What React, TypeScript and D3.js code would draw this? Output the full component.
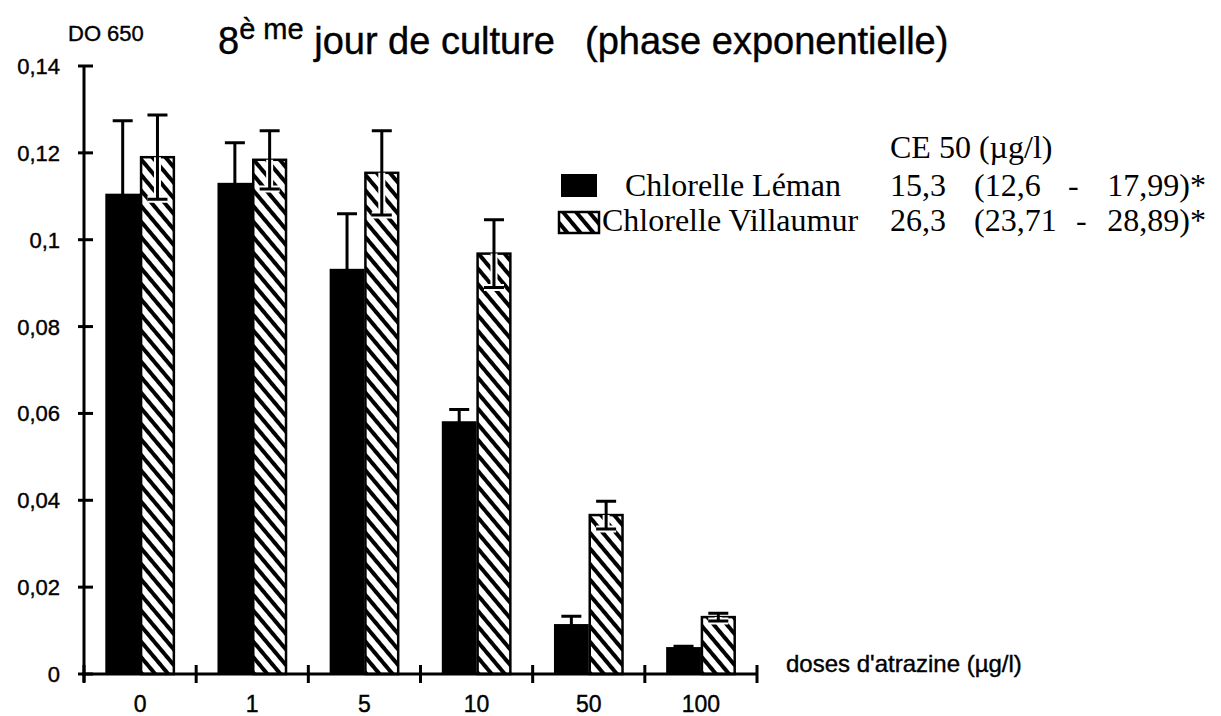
import React, { useEffect, useRef } from 'react'
import * as d3 from 'd3'

// doses d'atrazine (µg/l)
const doses = ['0', '1', '5', '10', '50', '100']
const lemanValues = [0.1106, 0.1131, 0.0933, 0.0582, 0.0115, 0.0062]
const lemanErrors = [0.0168, 0.0092, 0.0127, 0.0027, 0.0018, 0.0002]
const villaumurValues = [0.119, 0.1184, 0.1154, 0.0968, 0.0366, 0.0131]
const villaumurErrors = [0.0097, 0.0067, 0.0097, 0.0078, 0.0032, 0.0009]
const yTicks = [0, 0.02, 0.04, 0.06, 0.08, 0.1, 0.12, 0.14]

const seriesNames = ['Chlorelle Léman', 'Chlorelle Villaumur']
const ce50Values = ['15,3', '26,3']
const ce50Low = ['(12,6', '(23,71']
const ce50High = ['17,99)*', '28,89)*']

const sans = 'Arial, "Liberation Sans", Helvetica, sans-serif'
const serif = '"Times New Roman", "Liberation Serif", serif'

const App = () => {
  const ref = useRef<HTMLDivElement>(null)

  useEffect(() => {
    const width = 1221
    const height = 716
    const axisLeft = 84
    const axisRight = 757
    const baseY = 674
    const topY = 66

    const data = doses.map((d, i) => ({
      dose: d,
      bars: [
        { key: 'leman', value: lemanValues[i], err: lemanErrors[i] },
        { key: 'villaumur', value: villaumurValues[i], err: villaumurErrors[i] },
      ],
    }))

    const x0 = d3.scaleBand().domain(doses).range([axisLeft, axisRight]).paddingInner(0.38).paddingOuter(0.19)
    const x1 = d3.scaleBand().domain(['leman', 'villaumur']).range([0, x0.bandwidth()])
    const y = d3.scaleLinear().domain([0, 0.14]).range([baseY, topY])

    const svg = d3
      .create('svg')
      .attr('width', width)
      .attr('height', height)
      .attr('viewBox', [0, 0, width, height])
      .attr('style', 'position:absolute;left:0;top:0;background:#fff')

    const pat = svg
      .append('defs')
      .append('pattern')
      .attr('id', 'hatch')
      .attr('patternUnits', 'userSpaceOnUse')
      .attr('width', 10)
      .attr('height', 10)
      .attr('patternTransform', 'rotate(50)')
    pat.append('rect').attr('width', 10).attr('height', 10).attr('fill', '#fff')
    pat.append('line').attr('x1', 0).attr('x2', 10).attr('y1', 5).attr('y2', 5).attr('stroke', '#000').attr('stroke-width', 4)

    const groups = svg
      .append('g')
      .selectAll('g')
      .data(data)
      .join('g')
      .attr('transform', (d) => `translate(${x0(d.dose)},0)`)

    groups
      .selectAll('rect')
      .data((d) => d.bars)
      .join('rect')
      .attr('x', (d) => x1(d.key)! + (d.key === 'villaumur' ? 1 : 0))
      .attr('y', (d) => y(d.value))
      .attr('width', (d) => x1.bandwidth() - (d.key === 'villaumur' ? 2 : 0))
      .attr('height', (d) => baseY - y(d.value))
      .attr('fill', (d) => (d.key === 'leman' ? '#000' : 'url(#hatch)'))
      .attr('stroke', '#000')
      .attr('stroke-width', (d) => (d.key === 'leman' ? 0 : 2.5))

    // error bars (lower whisker shows through the hatched bars)
    const eb = groups
      .selectAll('g.err')
      .data((d) => d.bars)
      .join('g')
      .attr('class', 'err')
      .attr('transform', (d) => `translate(${x1(d.key)! + x1.bandwidth() / 2},0)`)
    const capW = 10
    eb.filter((d) => d.key === 'villaumur')
      .append('path')
      .attr('d', (d) => `M0,${y(d.value)}V${y(d.value - d.err)}M${-capW},${y(d.value - d.err)}H${capW}`)
      .attr('stroke', '#fff')
      .attr('stroke-width', 7)
      .attr('fill', 'none')
    eb.append('path')
      .attr('d', (d) => `M0,${y(d.value - d.err)}V${y(d.value + d.err)}M${-capW},${y(d.value + d.err)}H${capW}M${-capW},${y(d.value - d.err)}H${capW}`)
      .attr('stroke', '#000')
      .attr('stroke-width', 3)
      .attr('fill', 'none')

    // axes
    const ax = svg.append('g').attr('stroke', '#000').attr('stroke-width', 3).attr('fill', 'none')
    ax.append('line').attr('x1', axisLeft).attr('x2', axisLeft).attr('y1', y(0.14)).attr('y2', baseY + 8)
    ax.append('line').attr('x1', axisLeft - 2).attr('x2', axisRight).attr('y1', baseY).attr('y2', baseY)
    ax.selectAll('line.yt')
      .data(yTicks)
      .join('line')
      .attr('class', 'yt')
      .attr('x1', axisLeft - 6)
      .attr('x2', axisLeft + 9)
      .attr('y1', (d) => y(d))
      .attr('y2', (d) => y(d))
    const xTickPos = doses.map((d) => x0(d)! - (x0.step() - x0.bandwidth()) / 2).concat([axisRight])
    ax.selectAll('line.xt')
      .data(xTickPos)
      .join('line')
      .attr('class', 'xt')
      .attr('x1', (d) => d)
      .attr('x2', (d) => d)
      .attr('y1', baseY - 9)
      .attr('y2', baseY + 9)

    const txt = svg.append('g').attr('font-family', sans).attr('stroke', '#000').attr('stroke-width', 0.4)

    txt
      .append('g')
      .attr('font-size', 22)
      .attr('text-anchor', 'end')
      .selectAll('text')
      .data(yTicks)
      .join('text')
      .attr('x', 60)
      .attr('y', (d) => y(d) + 8)
      .text((d) => String(+d.toFixed(2)).replace('.', ','))

    txt
      .append('g')
      .attr('font-size', 23)
      .attr('text-anchor', 'middle')
      .selectAll('text')
      .data(doses)
      .join('text')
      .attr('x', (d) => x0(d)! + x0.bandwidth() / 2)
      .attr('y', 712)
      .text((d) => d)

    txt.append('text').attr('x', 786).attr('y', 672).attr('font-size', 24).text("doses d'atrazine (µg/l)")
    txt.append('text').attr('x', 68).attr('y', 41).attr('font-size', 22).text('DO 650')

    const title = txt.append('text').attr('x', 218).attr('y', 54).attr('font-size', 38).attr('style', 'white-space:pre')
    title.append('tspan').text('8')
    title.append('tspan').attr('dy', -15).attr('font-size', 29).text('è me')
    title.append('tspan').attr('dy', 15).text(' jour de culture')
    title.append('tspan').attr('x', 585).text('(phase exponentielle)')

    // legend
    const lg = svg.append('g').attr('font-family', serif).attr('font-size', 32)
    lg.append('text').attr('x', 890).attr('y', 158).text('CE 50 (µg/l)')
    const rowY = [196, 231]
    lg.append('rect').attr('x', 561).attr('y', 174).attr('width', 36).attr('height', 23).attr('fill', '#000')
    lg.append('rect').attr('x', 559).attr('y', 212).attr('width', 40).attr('height', 21).attr('fill', 'url(#hatch)').attr('stroke', '#000').attr('stroke-width', 2.5)
    const nameX = [625, 602]
    const dashX = [1068, 1076]
    seriesNames.forEach((n, i) => {
      lg.append('text').attr('x', nameX[i]).attr('y', rowY[i]).text(n)
      lg.append('text').attr('x', 946).attr('y', rowY[i]).attr('text-anchor', 'end').text(ce50Values[i])
      lg.append('text').attr('x', 974).attr('y', rowY[i]).text(ce50Low[i])
      lg.append('text').attr('x', dashX[i]).attr('y', rowY[i]).text('-')
      lg.append('text').attr('x', 1206).attr('y', rowY[i]).attr('text-anchor', 'end').text(ce50High[i])
    })

    d3.select(ref.current).selectAll('*').remove()
    ref.current!.appendChild(svg.node()!)
  }, [])

  return <div ref={ref}></div>
}

export default App
